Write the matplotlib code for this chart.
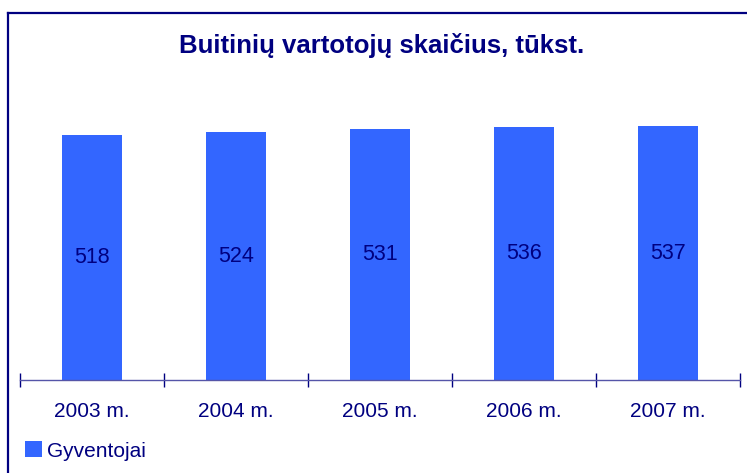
import numpy as np
import matplotlib
matplotlib.use('Agg')
import matplotlib.pyplot as plt
from matplotlib.lines import Line2D

years = ['2003 m.', '2004 m.', '2005 m.', '2006 m.', '2007 m.']
values = [518, 524, 531, 536, 537]
series_name = 'Gyventojai'
title = 'Buitinių vartotojų skaičius, tūkst.'

navy = '#000080'
bar_color = '#3366FF'

plt.rcParams['font.family'] = ['Liberation Sans', 'DejaVu Sans']

fig = plt.figure(figsize=(7.47, 4.73), dpi=100, facecolor='white')

# frame lines (left and top only)
fig.add_artist(Line2D([8/747, 8/747], [0, 1 - 13/473], color=navy, lw=1.6,
                      transform=fig.transFigure))
fig.add_artist(Line2D([8/747, 1], [1 - 13/473, 1 - 13/473], color=navy, lw=1.6,
                      transform=fig.transFigure))

ax = fig.add_axes([20/747, 93/473, 720/747, 283.5/473])
x = np.arange(len(years))
bars = ax.bar(x, values, width=0.41, color=bar_color, label=series_name)

for xi, v in zip(x, values):
    ax.text(xi, v / 2, str(v), ha='center', va='center', fontsize=15.5, color=navy)

ax.set_xlim(-0.5, len(years) - 0.5)
ax.set_ylim(0, 600)
for s in ['left', 'right', 'top']:
    ax.spines[s].set_visible(False)
ax.spines['bottom'].set_color('#5555a8')
ax.spines['bottom'].set_linewidth(1.0)
ax.set_yticks([])

ax.set_xticks(np.arange(len(years) + 1) - 0.5)
ax.set_xticklabels([])
ax.tick_params(axis='x', which='major', direction='inout', length=10, width=1.0, color=navy)
ax.set_xticks(x, minor=True)
ax.set_xticklabels(years, minor=True, fontsize=15, color=navy)
ax.tick_params(axis='x', which='minor', length=0, pad=16)

fig.text(381.5/747, 1 - 46/473, title, ha='center', va='center', fontsize=18.5,
         fontweight='bold', color=navy)

fig.legend(handles=[bars], labels=[series_name], loc='center left',
           bbox_to_anchor=(25/747, 1 - 451/473), frameon=False, fontsize=15,
           handlelength=0.8, handleheight=0.8, handletextpad=0.25,
           borderaxespad=0, borderpad=0, labelcolor=navy)

fig.savefig('out.png', dpi=100, facecolor='white')
